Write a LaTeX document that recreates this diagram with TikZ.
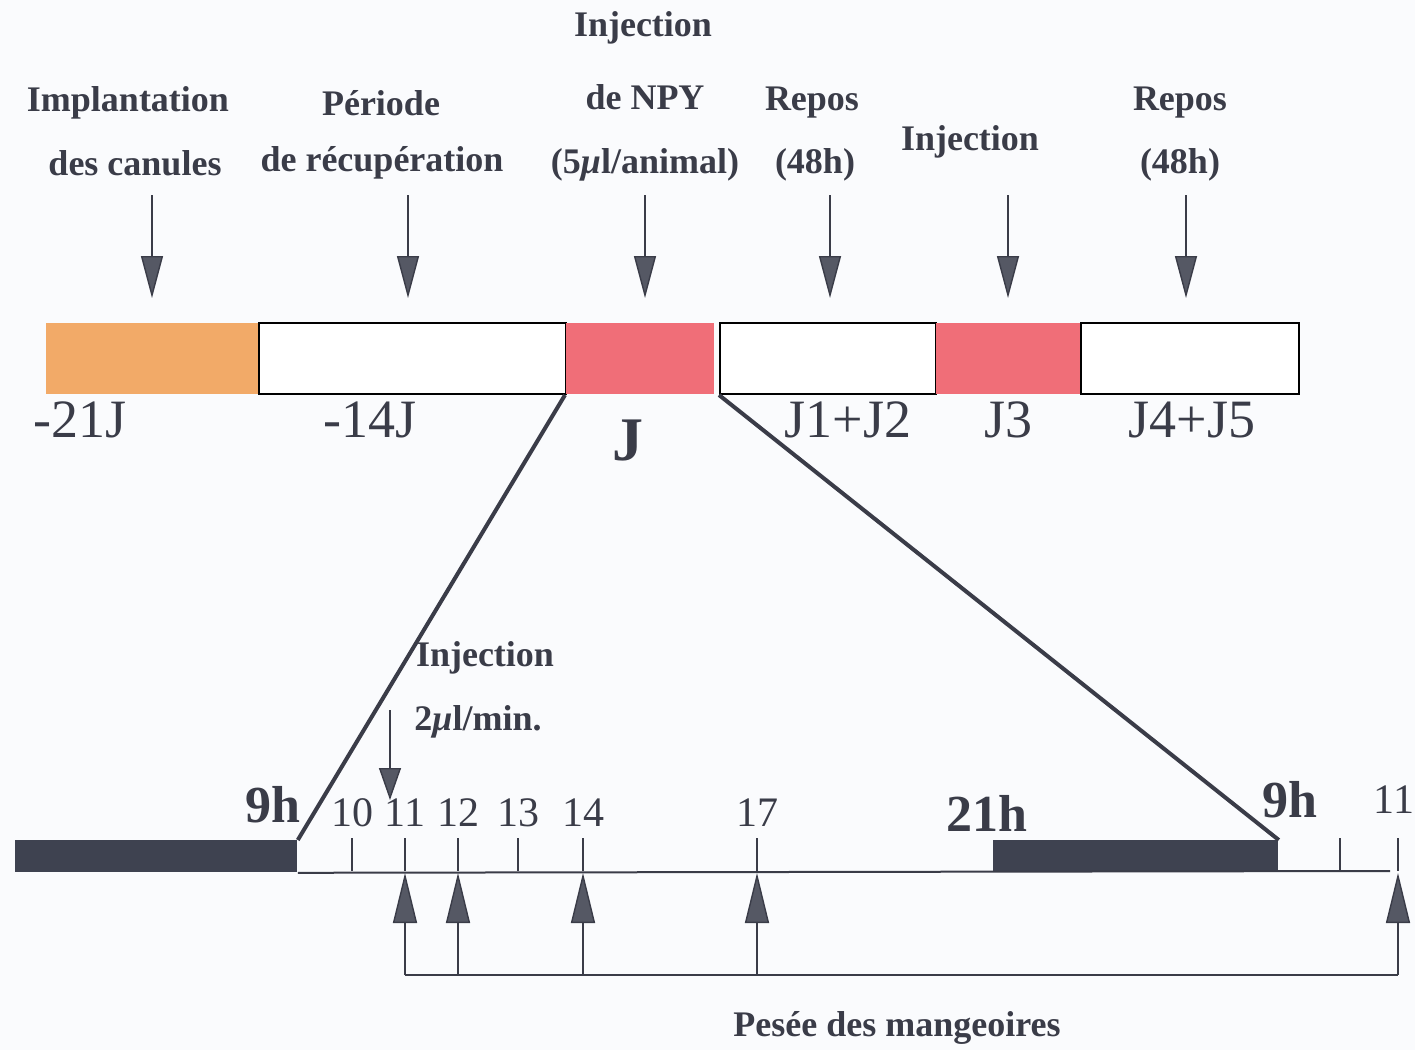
\documentclass[tikz,border=0pt]{standalone}
\usepackage{fontspec}
\setmainfont{Liberation Serif}
\usetikzlibrary{arrows.meta}
\definecolor{ink}{RGB}{58,60,72}
\definecolor{head}{RGB}{85,88,100}
\definecolor{nightc}{RGB}{62,66,80}
\definecolor{canule}{RGB}{242,170,104}
\definecolor{npy}{RGB}{240,110,120}
\definecolor{paper}{RGB}{250,251,253}
\begin{document}
\begin{tikzpicture}[x=0.5pt,y=-0.5pt,
    lab/.style={font=\fontsize{18}{21}\selectfont\bfseries, text=ink},
    day/.style={font=\fontsize{27}{29}\selectfont, text=ink},
    hour/.style={font=\fontsize{21}{24}\selectfont, text=ink},
    bighour/.style={font=\fontsize{26}{28}\selectfont\bfseries, text=ink},
    phase/.style={draw=black, line width=1pt, fill=white, minimum height=35.5pt, inner sep=0pt, anchor=north west},
    night/.style={fill=nightc, minimum height=16pt, inner sep=0pt, anchor=north west},
    down/.style={draw=ink, line width=0.7pt, -{Triangle[width=11pt,length=21pt,fill=head]}},
    up/.style={draw=ink, line width=0.7pt, -{Triangle[width=12pt,length=25pt,fill=head]}},
    zoomline/.style={draw=ink, line width=2pt}]
	\fill[paper] (0,0) rectangle (1415,1050);
	\useasboundingbox (0,0) rectangle (1415,1050);
	
	\node[lab] (impl) at (128,103) {Implantation};
	\node[lab] (impl2) at (135,163) {des canules};
	\node[lab] (rec) at (381,103) {Période};
	\node[lab] (rec2) at (382,163) {de récupération};
	\node[lab] (inj) at (643,28) {Injection};
	\node[lab] (inj2) at (645,97) {de NPY};
	\node[lab] (inj3) at (645,165) {(5\textit{μ}l/animal)};
	\node[lab] (rep) at (812,103) {Repos};
	\node[lab] (rep2) at (815,165) {(48h)};
	\node[lab] (inj4) at (970,142) {Injection};
	\node[lab] (rep3) at (1180,103) {Repos};
	\node[lab] (rep4) at (1180,165) {(48h)};
	
	\foreach \x [count=\i] in {152,408,645,830,1008,1186} {
		\coordinate (s\i) at (\x,195);
		\coordinate (e\i) at (\x,298);
		\draw[down] (s\i) -- (e\i);
	}
	
	\node[phase, draw=none, fill=canule, minimum width=106.5pt] (p1) at (45,322) {};
	\node[phase, minimum width=153.5pt] (p2) at (258,322) {};
	\node[phase, draw=none, fill=npy, minimum width=74pt] (p3) at (565,322) {};
	\node[phase, minimum width=108pt] (p4) at (719,322) {};
	\node[phase, draw=none, fill=npy, minimum width=72.5pt] (p5) at (935,322) {};
	\node[phase, minimum width=109pt] (p6) at (1080,322) {};
	
	\node[day] (d1) at (80,420) {-21J};
	\node[day] (d2) at (370,420) {-14J};
	\node[day, font=\fontsize{31}{32}\selectfont\bfseries] (d3) at (628,440) {J};
	\node[day] (d4) at (848,420) {J1+J2};
	\node[day] (d5) at (1008,420) {J3};
	\node[day] (d6) at (1192,420) {J4+J5};
	
	\node[night, minimum width=141pt] (n1) at (15,840) {};
	\node[night, minimum width=142.5pt] (n2) at (993,840) {};
	\coordinate (axend) at (1390,871);
	\draw[ink, line width=1pt] (n1.south east) -- (axend);
	
	\draw[zoomline] (p3.south west) -- (n1.north east);
	\draw[zoomline] (p4.south west) -- (n2.north east);
	
	\foreach \x/\t in {352/10, 405/11, 458/12, 518/13, 583/14, 757/17} {
		\draw[ink, line width=0.7pt] (\x,838) -- (\x,871);
		\node[hour] at (\x,813) {\t};
	}
	\draw[ink, line width=0.7pt] (1340,838) -- (1340,871);
	\draw[ink, line width=0.7pt] (1398,838) -- (1398,871);
	\node[hour] (h11) at (1394,800) {11};
	\node[bighour] (h9a) at (273,805) {9h};
	\node[bighour] (h21) at (987,813) {21h};
	\node[bighour] (h9b) at (1290,800) {9h};
	
	\node[lab] (inj5) at (485,658) {Injection};
	\node[lab] (inj6) at (478,722) {2\textit{μ}l/min.};
	\coordinate (ia) at (390,710);
	\coordinate (ib) at (390,800);
	\draw[ink, line width=0.7pt, -{Triangle[width=11pt,length=16pt,fill=head]}] (ia) -- (ib);
	
	\foreach \x [count=\i] in {405,458,583,757,1398} {
		\coordinate (w\i) at (\x,975);
		\coordinate (t\i) at (\x,873);
		\draw[up] (w\i) -- (t\i);
	}
	\draw[ink, line width=0.8pt] (w1) -- (w5);
	\node[lab] (pes) at (897,1028) {Pesée des mangeoires};
\end{tikzpicture}
\end{document}
